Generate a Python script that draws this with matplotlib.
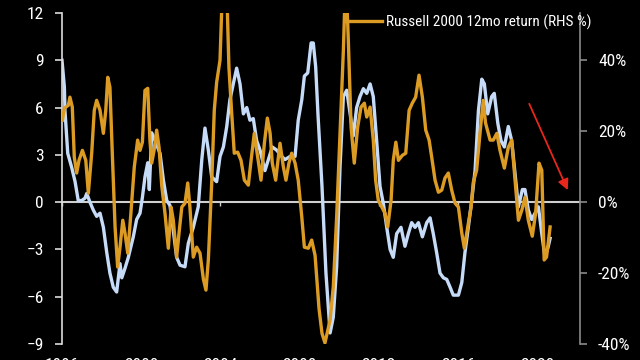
import matplotlib
matplotlib.use("Agg")
import matplotlib.pyplot as plt
from matplotlib.ticker import FuncFormatter
from matplotlib import font_manager as fm

# ---- pick a condensed sans face if one is installed ----
def pick_font():
    prefs = ['Liberation Sans Narrow', 'Roboto Condensed', 'Roboto', 'Noto Sans', 'Open Sans',
             'DejaVu Sans', 'Liberation Sans', 'Lato', 'Inter']
    cands = []
    for f in fm.fontManager.ttflist:
        narrow = (f.stretch in ('condensed', 'semi-condensed', 'extra-condensed')
                  or 'Narrow' in f.name or 'Condensed' in f.name)
        if not narrow or f.style != 'normal':
            continue
        w = f.weight if isinstance(f.weight, int) else fm.weight_dict.get(f.weight, 400)
        if w != 400:
            continue
        rank = prefs.index(f.name) if f.name in prefs else len(prefs)
        cands.append((rank, f.fname))
    if cands:
        cands.sort()
        return fm.FontProperties(fname=cands[0][1]), True
    return fm.FontProperties(family=['Liberation Sans', 'DejaVu Sans']), False

FP, CONDENSED = pick_font()
FS = 12.5 if CONDENSED else 11.0
LEG_FS = 11.0 if CONDENSED else 10.0

# Blue series (LHS)
blue_t = [1996.00, 1996.12, 1996.15, 1996.29, 1996.49, 1996.66, 1996.82, 1996.99, 1997.16, 1997.25,
          1997.41, 1997.58, 1997.75, 1997.92, 1998.09, 1998.26, 1998.42, 1998.59, 1998.76, 1998.93,
          1999.02, 1999.18, 1999.35, 1999.60, 1999.77, 1999.94, 2000.06, 2000.19, 2000.33, 2000.41,
          2000.53, 2000.70, 2000.95, 2001.12, 2001.29, 2001.45, 2001.62, 2001.79, 2001.96, 2002.21,
          2002.38, 2002.63, 2002.88, 2003.06, 2003.22, 2003.39, 2003.56, 2003.81, 2003.98, 2004.15,
          2004.32, 2004.48, 2004.65, 2004.82, 2004.99, 2005.16, 2005.33, 2005.49, 2005.66, 2005.83,
          2006.00, 2006.25, 2006.42, 2006.62, 2006.84, 2007.10, 2007.26, 2007.52, 2007.77, 2007.93,
          2008.11, 2008.24, 2008.41, 2008.58, 2008.69, 2008.81, 2008.93, 2009.13, 2009.33, 2009.54,
          2009.70, 2009.87, 2010.04, 2010.21, 2010.38, 2010.55, 2010.71, 2010.88, 2011.05, 2011.22,
          2011.39, 2011.56, 2011.72, 2011.89, 2012.06, 2012.23, 2012.40, 2012.57, 2012.73, 2012.90,
          2013.12, 2013.32, 2013.49, 2013.66, 2013.83, 2014.00, 2014.20, 2014.42, 2014.59, 2014.75,
          2014.92, 2015.09, 2015.26, 2015.43, 2015.60, 2015.76, 2016.02, 2016.19, 2016.35, 2016.52,
          2016.69, 2016.86, 2017.03, 2017.20, 2017.33, 2017.50, 2017.70, 2017.83, 2018.01, 2018.17,
          2018.34, 2018.54, 2018.71, 2018.88, 2019.05, 2019.25, 2019.38, 2019.55, 2019.72, 2019.89,
          2020.06, 2020.23, 2020.39, 2020.56, 2020.65]
blue_v = [9.0, 7.3, 5.8, 3.1, 2.2, 1.3, 0.1, 0.1, 0.25, 0.55,
          0.0, -0.5, -0.9, -0.7, -1.6, -3.2, -4.5, -5.4, -5.7, -3.9,
          -4.8, -4.2, -3.5, -2.2, -1.1, -0.7, 0.3, 1.6, 2.5, 0.8,
          4.4, 3.9, 3.1, 1.4, 0.1, -0.2, -1.8, -3.5, -4.0, -4.1,
          -2.6, -1.6, -0.3, 2.7, 4.7, 3.3, 1.6, 1.3, 2.9, 3.5,
          4.8, 6.5, 7.5, 8.5, 7.5, 5.6, 6.0, 5.2, 5.3, 3.9,
          3.3, 2.0, 2.7, 3.5, 3.3, 2.9, 2.7, 2.9, 2.9, 5.2,
          6.5, 8.0, 8.2, 10.1, 10.1, 8.6, 5.5, 1.0, -4.5, -8.3,
          -7.3, -4.1, 2.2, 6.7, 7.1, 5.6, 4.2, 6.0, 6.7, 7.2,
          6.9, 7.5, 6.7, 3.9, 1.0, -0.1, -1.6, -3.0, -3.5, -2.0,
          -1.6, -2.8, -2.0, -1.3, -1.6, -1.3, -2.2, -1.3, -1.0, -2.0,
          -3.2, -4.5, -4.8, -4.9, -5.4, -5.9, -5.9, -5.1, -3.2, -1.6,
          0.1, 2.0, 5.8, 7.8, 7.5, 5.6, 6.7, 6.9, 5.0, 3.9,
          3.5, 4.8, 3.9, 1.8, -0.3, 0.8, 0.8, -0.5, -1.1, -0.7,
          -0.3, -2.0, -3.5, -2.8, -2.3]

# Russell 2000 12mo return, % (RHS)
gold_t = [1996.02, 1996.12, 1996.32, 1996.40, 1996.52, 1996.62, 1996.74, 1996.86, 1997.03, 1997.20,
          1997.33, 1997.50, 1997.63, 1997.75, 1997.92, 1998.09, 1998.21, 1998.31, 1998.42, 1998.54,
          1998.68, 1998.81, 1998.93, 1999.07, 1999.18, 1999.32, 1999.48, 1999.65, 1999.82, 1999.94,
          2000.06, 2000.19, 2000.33, 2000.44, 2000.53, 2000.65, 2000.78, 2000.90, 2001.04, 2001.20,
          2001.37, 2001.51, 2001.62, 2001.79, 2001.91, 2002.05, 2002.21, 2002.35, 2002.46, 2002.63,
          2002.80, 2002.97, 2003.14, 2003.27, 2003.39, 2003.56, 2003.69, 2003.81, 2003.98, 2004.10,
          2004.32, 2004.43, 2004.57, 2004.70, 2004.87, 2005.04, 2005.21, 2005.41, 2005.55, 2005.71,
          2005.88, 2006.05, 2006.22, 2006.37, 2006.51, 2006.62, 2006.79, 2007.01, 2007.18, 2007.31,
          2007.46, 2007.60, 2007.77, 2007.93, 2008.11, 2008.24, 2008.44, 2008.61, 2008.78, 2008.98,
          2009.13, 2009.28, 2009.54, 2009.70, 2009.87, 2010.04, 2010.21, 2010.33, 2010.46, 2010.60,
          2010.76, 2010.93, 2011.10, 2011.27, 2011.39, 2011.56, 2011.72, 2011.84, 2011.97, 2012.15,
          2012.31, 2012.45, 2012.62, 2012.73, 2012.86, 2012.99, 2013.19, 2013.36, 2013.53, 2013.69,
          2013.86, 2014.03, 2014.20, 2014.37, 2014.54, 2014.67, 2014.84, 2015.01, 2015.18, 2015.34,
          2015.51, 2015.68, 2015.85, 2016.02, 2016.19, 2016.32, 2016.49, 2016.66, 2016.77, 2016.94,
          2017.11, 2017.27, 2017.39, 2017.62, 2017.78, 2017.96, 2018.12, 2018.34, 2018.54, 2018.71,
          2018.88, 2019.05, 2019.22, 2019.38, 2019.55, 2019.75, 2019.92, 2020.09, 2020.23, 2020.35,
          2020.47, 2020.65]
gold_v = [23.1, 26.5, 27.3, 29.6, 26.8, 12.7, 8.2, 11.8, 14.6, 11.8,
          2.5, 13.8, 25.9, 28.7, 25.9, 19.4, 25.9, 35.2, 32.4, 13.8,
          -7.0, -18.3, -12.7, -5.1, -8.7, -14.4, -3.1, 9.9, 17.5, 14.6,
          16.9, 31.5, 32.1, 17.5, 11.0, 14.6, 20.3, 15.5, 4.5, -3.1,
          -13.0, -1.4, -5.1, -15.5, -8.7, -1.4, -0.3, 5.4, -1.4, -15.5,
          -12.7, -14.4, -21.7, -24.8, -16.3, 5.4, 25.9, 33.8, 40.0, 60.0,
          60.0, 38.0, 25.1, 13.8, 14.1, 11.8, 6.2, 4.8, 11.8, 19.4,
          12.7, 6.2, 16.6, 23.7, 19.4, 11.0, 6.2, 16.6, 9.9, 6.2,
          11.0, 13.8, 11.0, 6.2, -4.2, -12.7, -13.0, -10.7, -15.0, -30.0,
          -37.0, -39.7, -33.2, -23.9, -4.2, 19.4, 42.8, 65.0, 45.6, 21.1,
          11.0, 21.1, 26.8, 27.9, 24.0, 26.8, 17.5, 6.2, 0.6, -1.4,
          -3.1, -7.0, 0.6, 11.8, 16.9, 11.8, 13.2, 13.8, 25.9, 27.9,
          29.6, 35.8, 29.6, 20.3, 17.5, 12.7, 6.2, 2.8, 3.4, 6.8,
          8.2, 3.4, -0.3, -1.4, -8.7, -13.0, -7.0, -1.4, 5.6, 9.0,
          19.4, 28.7, 22.3, 17.5, 17.5, 19.4, 14.6, 9.6, 15.5, 17.5,
          6.2, -5.1, -2.3, 1.4, -5.1, -9.6, -3.1, 11.0, 9.0, -16.3,
          -15.5, -7.0]

year_ticks = [1996, 2000, 2004, 2008, 2012, 2016, 2020]
left_ticks = [-9, -6, -3, 0, 3, 6, 9, 12]
right_ticks = [-40, -20, 0, 20, 40]
legend_label = "Russell 2000 12mo return (RHS %)"

arrow_start = (2019.54, 6.4)
arrow_end = (2021.6, 0.6)

BLUE = '#C6DBF7'
GOLD = '#DC9C24'
BG = 'black'

fig = plt.figure(figsize=(6.4, 3.6), dpi=100, facecolor=BG)
ax = fig.add_axes([62/640, 1-344/360, (580-62)/640, (344-13)/360])
ax.set_facecolor(BG)
ax2 = ax.twinx()

ax.plot(blue_t, blue_v, color=BLUE, lw=2.4, solid_joinstyle='round', zorder=2)
ax2.plot(gold_t, gold_v, color=GOLD, lw=2.4, solid_joinstyle='round', label=legend_label, zorder=3)

ax.set_xlim(1996, 2022.16)
ax.set_ylim(-9, 12)
ax2.set_ylim(-40, 12*40/9)

ax.set_yticks(left_ticks)
ax2.set_yticks(right_ticks)
ax2.yaxis.set_major_formatter(FuncFormatter(lambda v, p: f"{v:.0f}%"))

ax.set_xticks(year_ticks)
ax.set_xticklabels([str(y) for y in year_ticks])

for s in ['top', 'bottom', 'right']:
    ax.spines[s].set_visible(False)
for s in ['top', 'bottom', 'left']:
    ax2.spines[s].set_visible(False)
ax.spines['left'].set_color('#DDDDDD')
ax.spines['left'].set_linewidth(1.2)
ax2.spines['right'].set_color('#8A8A8A')
ax2.spines['right'].set_linewidth(1.2)

ax.tick_params(axis='y', colors='#DDDDDD', labelcolor='white', length=5, width=1.2, pad=8)
ax2.tick_params(axis='y', colors='#8A8A8A', labelcolor='white', length=5, width=1.2, pad=8)
ax.tick_params(axis='x', length=0, labelcolor='white', pad=10)

# zero line with small ticks
sec = ax.secondary_xaxis(9/21)
sec.spines['bottom'].set_color('#CFCFCF')
sec.spines['bottom'].set_linewidth(1.5)
sec.set_xticks(year_ticks)
sec.tick_params(axis='x', colors='#CFCFCF', length=3, width=1, labelbottom=False)
sec.set_zorder(1)

leg_prop = FP.copy()
leg_prop.set_size(LEG_FS)
leg = ax2.legend(loc='center left', bbox_to_anchor=(345/640, 1-22/360), bbox_transform=fig.transFigure,
                 frameon=False, prop=leg_prop, handlelength=2.4 if CONDENSED else 2.8,
                 handletextpad=0.3, borderpad=0, borderaxespad=0, labelcolor='white')
for l in leg.get_lines():
    l.set_linewidth(2.4)

ax.annotate('', xy=arrow_end, xytext=arrow_start,
            arrowprops=dict(arrowstyle='-|>', color='#E8261C', lw=1.3, mutation_scale=16),
            annotation_clip=False, zorder=5)

tick_prop = FP.copy()
tick_prop.set_size(FS)
for lab in ax.get_xticklabels() + ax.get_yticklabels() + ax2.get_yticklabels():
    lab.set_fontproperties(tick_prop)

fig.savefig('out.png', dpi=100, facecolor=BG)
